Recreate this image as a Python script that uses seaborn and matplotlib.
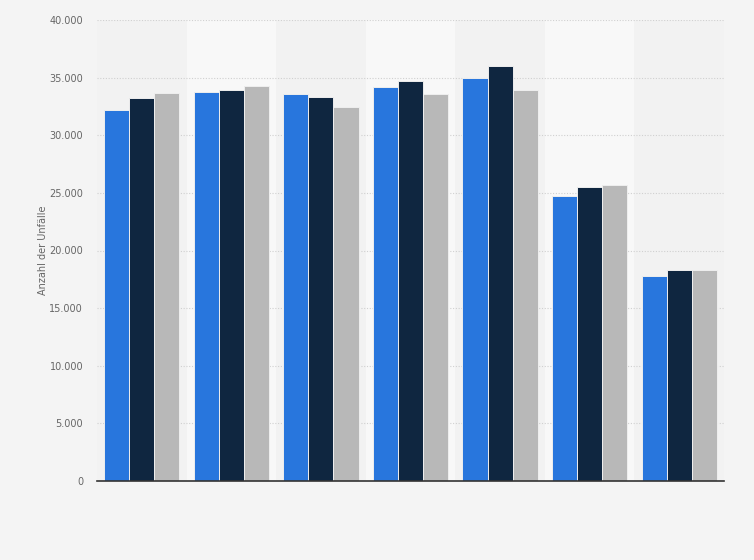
import matplotlib
matplotlib.use("Agg")
import matplotlib.pyplot as plt
import seaborn as sns
import pandas as pd
from matplotlib.ticker import FuncFormatter

categories = ["Montag", "Dienstag", "Mittwoch", "Donnerstag", "Freitag", "Samstag", "Sonntag"]
series_names = ["Jahr 1", "Jahr 2", "Jahr 3"]
values_1 = [32200, 33750, 33550, 34150, 34950, 24750, 17800]
values_2 = [33200, 33930, 33300, 34680, 36000, 25500, 18300]
values_3 = [33650, 34270, 32450, 33580, 33900, 25680, 18300]
colors = ["#2876dd", "#0f2640", "#b8b8b8"]
y_label = "Anzahl der Unfälle"
y_ticks = [0, 5000, 10000, 15000, 20000, 25000, 30000, 35000, 40000]

rows = []
for name, vals in zip(series_names, [values_1, values_2, values_3]):
    for c, v in zip(categories, vals):
        rows.append({"Kategorie": c, "Serie": name, "Wert": v})
df = pd.DataFrame(rows)

sns.set_style("white")
plt.rcParams['font.family'] = ['DejaVu Sans']
fig = plt.figure(figsize=(7.54, 5.6), dpi=100, facecolor="#f4f4f4")
ax = fig.add_axes([97/754, 79/560, 627/754, 461/560])
ax.set_facecolor("#f2f2f2")

for i in range(len(categories)):
    if i % 2 == 1:
        ax.axvspan(i - 0.5, i + 0.5, color="#f8f8f8", zorder=0, lw=0)

sns.barplot(data=df, x="Kategorie", y="Wert", hue="Serie", order=categories,
            hue_order=series_names, palette=colors, saturation=1, width=0.84, ax=ax,
            edgecolor="#eeeeee", linewidth=0.7, legend=False, zorder=3, errorbar=None)

ax.set_xlim(-0.5, len(categories) - 0.5)
ax.set_ylim(0, 40000)
ax.set_yticks(y_ticks)
ax.yaxis.set_major_formatter(FuncFormatter(lambda v, p: f"{int(v):,}".replace(",", ".")))
ax.grid(axis="y", color="#d0d0d0", linestyle=(0, (1, 1.5)), linewidth=0.8, zorder=1)
ax.set_axisbelow(True)
ax.tick_params(axis="y", labelsize=7, labelcolor="#666666", length=0, pad=10)
ax.set_xticks([])
ax.set_xlabel("")
ax.set_ylabel(y_label, fontsize=7, color="#666666", labelpad=1)
for s in ["top", "right", "left"]:
    ax.spines[s].set_visible(False)
ax.spines["bottom"].set_color("#333333")
ax.spines["bottom"].set_linewidth(1.2)
ax.spines["bottom"].set_zorder(5)

fig.savefig("out.png", dpi=100, facecolor=fig.get_facecolor())
